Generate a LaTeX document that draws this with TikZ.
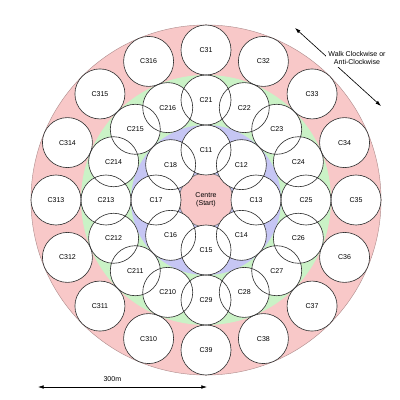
\documentclass[tikz,border=0pt]{standalone}
\usepackage{fontspec}
\setmainfont{Liberation Sans}
\usetikzlibrary{arrows.meta,positioning}
\definecolor{Rose}{HTML}{F8C8C8}
\definecolor{Mint}{HTML}{CAF2C6}
\definecolor{Lilac}{HTML}{C6C6F4}
\definecolor{Edge}{HTML}{333333}

\begin{document}
\begin{tikzpicture}[x=0.025cm,y=-0.025cm,>={Latex[length=4pt,width=2.6pt]},
  cell/.style={circle,fill=white,inner sep=0pt,minimum size=1.25cm,font=\fontsize{5}{6}\selectfont},
  rim/.style={draw=Edge,line width=0.45pt},
  note/.style={font=\fontsize{5}{6}\selectfont,align=center}]
\useasboundingbox (0,0) rectangle (400,400);
\coordinate (o) at (206,200);
% zones
\fill[Rose,draw=Rose!70!black,line width=0.3pt] (o) circle (4.375cm);
\fill[Mint] (o) circle (3.125cm);
\fill[Lilac] (o) circle (1.875cm);
\node[circle,fill=Rose,draw=Edge!70,line width=0.45pt,minimum size=1.35cm,inner sep=0pt,note] (c0) at (o) {Centre\\(Start)};
% circles
\foreach \k in {1,...,16}{
  \node[cell] (c3-\k) at ({206+150*cos(90-(\k-1)*22.5)},{200-150*sin(90-(\k-1)*22.5)}) {C3\k};
  \node[cell] (c2-\k) at ({206+100*cos(90-(\k-1)*22.5)},{200-100*sin(90-(\k-1)*22.5)}) {C2\k};}
\foreach \k in {1,...,8}
  \node[cell] (c1-\k) at ({206+50*cos(90-(\k-1)*45)},{200-50*sin(90-(\k-1)*45)}) {C1\k};
\foreach \k in {1,...,16}{
  \draw[rim] (c3-\k.center) circle (0.625cm);
  \draw[rim] (c2-\k.center) circle (0.625cm);}
\foreach \k in {1,...,8}
  \draw[rim] (c1-\k.center) circle (0.625cm);
% scale and direction
\coordinate (sl) at (38,387);
\coordinate (sr) at (207,387);
\draw[<->,line width=0.45pt] (sl) -- node[pos=0.44,above=0pt,note] (len) {300m} (sr);
\coordinate (wa) at (295,28);
\coordinate (wb) at (381,106);
\draw[<->,line width=0.45pt] (wa) -- (wb);
\node[note,fill=white,inner sep=1.5pt] (walk) at (357,58) {Walk Clockwise or\\Anti-Clockwise};
\end{tikzpicture}
\end{document}
